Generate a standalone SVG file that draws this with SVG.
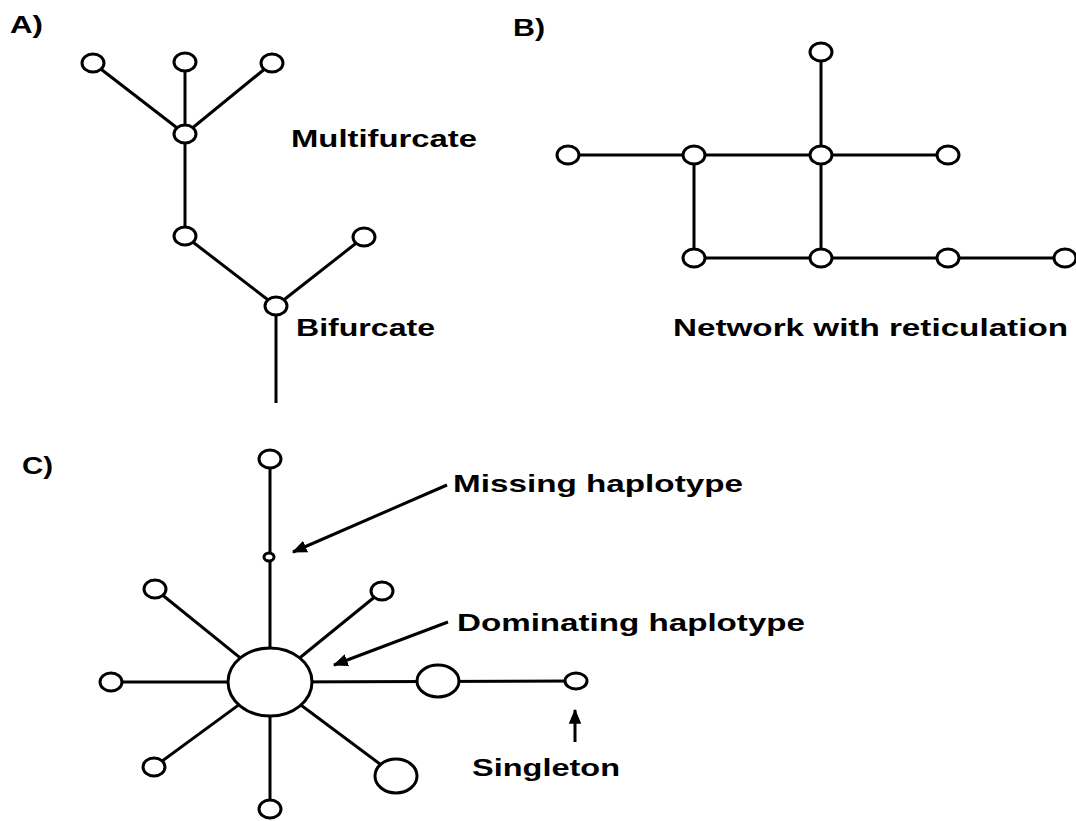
<svg xmlns="http://www.w3.org/2000/svg" width="1076" height="821" viewBox="0 0 1076 821">
<defs>
<style>
.e{stroke:#000;stroke-width:3;fill:none}
.n{stroke:#000;stroke-width:3;fill:#fff}
.t{font-family:"Liberation Sans",Arial,sans-serif;font-weight:bold;font-size:24px;fill:#000}
.a{stroke:#000;stroke-width:3;fill:none;marker-end:url(#ah)}
</style>
<marker id="ah" viewBox="0 0 12 10" refX="11" refY="5" markerWidth="5" markerHeight="5" orient="auto" markerUnits="strokeWidth">
<path d="M0,0 L12,5 L0,10 Z" fill="#000"/>
</marker>
</defs>
<rect width="1076" height="821" fill="#fff"/>
<g id="connectors">
<line class="e" x1="185" y1="134" x2="93" y2="63"/>
<line class="e" x1="185" y1="134" x2="185" y2="62"/>
<line class="e" x1="185" y1="134" x2="272" y2="63"/>
<line class="e" x1="185" y1="134" x2="185" y2="236"/>
<line class="e" x1="185" y1="236" x2="276" y2="306"/>
<line class="e" x1="364" y1="237" x2="276" y2="306"/>
<line class="e" x1="276" y1="306" x2="276" y2="403"/>
<line class="e" x1="568" y1="155" x2="948" y2="155"/>
<line class="e" x1="821" y1="52" x2="821" y2="258"/>
<line class="e" x1="694" y1="155" x2="694" y2="258"/>
<line class="e" x1="694" y1="258" x2="1065" y2="258"/>
<line class="e" x1="270" y1="682" x2="270" y2="459"/>
<line class="e" x1="270" y1="682" x2="155" y2="589"/>
<line class="e" x1="270" y1="682" x2="382" y2="591"/>
<line class="e" x1="270" y1="682" x2="111" y2="682"/>
<line class="e" x1="270" y1="682" x2="576" y2="681"/>
<line class="e" x1="270" y1="682" x2="154" y2="767"/>
<line class="e" x1="270" y1="682" x2="270" y2="809"/>
<line class="e" x1="270" y1="682" x2="396" y2="776"/>
<line class="a" x1="447" y1="485" x2="293" y2="552"/>
<line class="a" x1="448" y1="622" x2="334" y2="665"/>
<line class="a" x1="575" y1="742" x2="575" y2="710"/>
</g>
<g id="panelA">
<text class="t" x="10" y="33" textLength="33" lengthAdjust="spacingAndGlyphs">A)</text>
<g id="a1"><ellipse class="n" cx="93" cy="63" rx="11" ry="9"/></g>
<g id="a2"><ellipse class="n" cx="185" cy="62" rx="11" ry="9"/></g>
<g id="a3"><ellipse class="n" cx="272" cy="63" rx="11" ry="9"/></g>
<g id="a4"><ellipse class="n" cx="185" cy="134" rx="11" ry="9"/></g>
<g id="a5"><ellipse class="n" cx="185" cy="236" rx="11" ry="9"/></g>
<g id="a6"><ellipse class="n" cx="364" cy="237" rx="11" ry="9"/></g>
<g id="a7"><ellipse class="n" cx="276" cy="306" rx="11" ry="9"/></g>
<text class="t" x="291" y="147" textLength="186" lengthAdjust="spacingAndGlyphs">Multifurcate</text>
<text class="t" x="296" y="336" textLength="139" lengthAdjust="spacingAndGlyphs">Bifurcate</text>
</g>
<g id="panelB">
<text class="t" x="513" y="36" textLength="32" lengthAdjust="spacingAndGlyphs">B)</text>
<g id="b1"><ellipse class="n" cx="821" cy="52" rx="11" ry="9"/></g>
<g id="b2"><ellipse class="n" cx="568" cy="155" rx="11" ry="9"/></g>
<g id="b3"><ellipse class="n" cx="694" cy="155" rx="11" ry="9"/></g>
<g id="b4"><ellipse class="n" cx="821" cy="155" rx="11" ry="9"/></g>
<g id="b5"><ellipse class="n" cx="948" cy="155" rx="11" ry="9"/></g>
<g id="b6"><ellipse class="n" cx="694" cy="258" rx="11" ry="9"/></g>
<g id="b7"><ellipse class="n" cx="821" cy="258" rx="11" ry="9"/></g>
<g id="b8"><ellipse class="n" cx="948" cy="258" rx="11" ry="9"/></g>
<g id="b9"><ellipse class="n" cx="1065" cy="258" rx="11" ry="9"/></g>
<text class="t" x="673" y="336" textLength="395" lengthAdjust="spacingAndGlyphs">Network with reticulation</text>
</g>
<g id="panelC">
<text class="t" x="22" y="474" textLength="31" lengthAdjust="spacingAndGlyphs">C)</text>
<g id="c-top"><ellipse class="n" cx="270" cy="459" rx="11" ry="9"/></g>
<g id="c-missing"><ellipse class="n" cx="269" cy="557" rx="5" ry="4"/></g>
<g id="c-ul"><ellipse class="n" cx="155" cy="589" rx="11" ry="9"/></g>
<g id="c-ur"><ellipse class="n" cx="382" cy="591" rx="11" ry="9"/></g>
<g id="c-l"><ellipse class="n" cx="111" cy="682" rx="11" ry="9"/></g>
<g id="c-dl"><ellipse class="n" cx="154" cy="767" rx="11" ry="9"/></g>
<g id="c-b"><ellipse class="n" cx="270" cy="809" rx="11" ry="9"/></g>
<g id="c-dr"><ellipse class="n" cx="396" cy="776" rx="21" ry="17"/></g>
<g id="c-r"><ellipse class="n" cx="438" cy="681" rx="21" ry="16"/></g>
<g id="c-single"><ellipse class="n" cx="576" cy="681" rx="11" ry="8"/></g>
<g id="c-center"><ellipse class="n" cx="270" cy="682" rx="42" ry="34"/></g>
<text class="t" x="453" y="492" textLength="290" lengthAdjust="spacingAndGlyphs">Missing haplotype</text>
<text class="t" x="457" y="631" textLength="348" lengthAdjust="spacingAndGlyphs">Dominating haplotype</text>
<text class="t" x="472" y="776" textLength="148" lengthAdjust="spacingAndGlyphs">Singleton</text>
</g>
</svg>
